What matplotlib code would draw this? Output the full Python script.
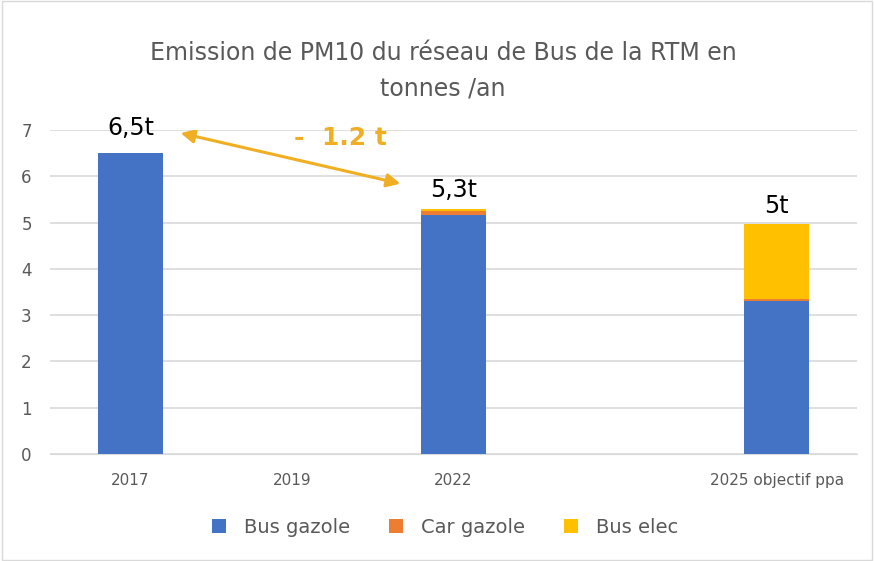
import numpy as np
import matplotlib.pyplot as plt
from matplotlib.patches import FancyArrowPatch, Rectangle

# donnees (tonnes / an)
categories = ['2017', '2019', '2022', '', '2025 objectif ppa']
bus_gazole = [6.5, 0, 5.16, 0, 3.30]
car_gazole = [0, 0, 0.09, 0, 0.05]
bus_elec = [0, 0, 0.05, 0, 1.61]
etiquettes = ['6,5t', '', '5,3t', '', '5t']

c_bus = '#4472C4'
c_car = '#ED7D31'
c_elec = '#FFC000'
gris = '#595959'
or_fleche = '#F0AE22'

fig = plt.figure(figsize=(8.74, 5.61), dpi=100)
ax = fig.add_axes([0.057, 0.191, 0.924, 0.577])

x = np.arange(len(categories))
b1 = np.array(bus_gazole)
b2 = np.array(car_gazole)
b3 = np.array(bus_elec)
largeur = 0.4

ax.bar(x, b1, largeur, color=c_bus, label='Bus gazole', zorder=3)
ax.bar(x, b2, largeur, bottom=b1, color=c_car, label='Car gazole', zorder=3)
ax.bar(x, b3, largeur, bottom=b1 + b2, color=c_elec, label='Bus elec', zorder=3)

total = b1 + b2 + b3
for i, txt in enumerate(etiquettes):
    if txt:
        # l'etiquette 2017 a ete remontee a la main dans l'original
        dy = 0.29 if i == 0 else 0.14
        ax.text(x[i], total[i] + dy, txt, ha='center', va='bottom',
                fontsize=17, color='black')

# fleche de reduction
fl = FancyArrowPatch((0.293, 6.95), (1.687, 5.83), arrowstyle='<|-|>',
                     mutation_scale=20, color=or_fleche, lw=2.2, zorder=4)
ax.add_patch(fl)
ax.text(1.30, 6.82, '-  1.2 t', ha='center', va='center', fontsize=18,
        fontweight='bold', color=or_fleche)

ax.set_xlim(-0.5, len(categories) - 0.5)
ax.set_ylim(0, 7)
ax.set_yticks(range(0, 8))
ax.set_xticks(x)
ax.set_xticklabels(categories)
ax.grid(axis='y', color='#D9D9D9', lw=1.2, zorder=0)
for s in ax.spines.values():
    s.set_visible(False)
ax.spines['bottom'].set_visible(True)
ax.spines['bottom'].set_color('#D9D9D9')
ax.tick_params(length=0)
ax.tick_params(axis='y', labelsize=12, labelcolor=gris, pad=13)
ax.tick_params(axis='x', labelsize=11, labelcolor=gris, pad=14)

fig.text(0.507, 0.874, 'Emission de PM10 du réseau de Bus de la RTM en\ntonnes /an',
         ha='center', va='center', fontsize=17, color=gris, linespacing=1.6)

fig.legend(loc='center', bbox_to_anchor=(0.509, 0.06), ncol=3, frameon=False,
           fontsize=14, labelcolor=gris, handlelength=0.75, handleheight=0.75,
           columnspacing=2.0, handletextpad=0.9)

fig.patches.append(Rectangle((0.002, 0.002), 0.996, 0.996, transform=fig.transFigure,
                             fill=False, edgecolor='#D9D9D9', lw=1))

fig.savefig('out.png', dpi=100)
